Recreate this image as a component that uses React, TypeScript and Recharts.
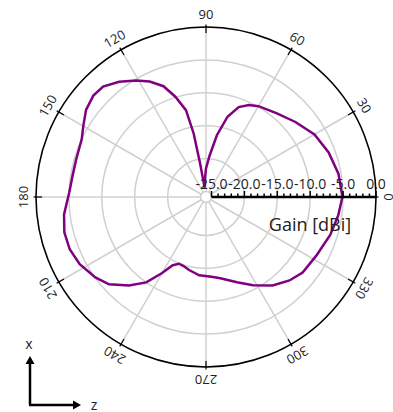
import React from 'react';
import {
  RadarChart,
  Radar,
  PolarGrid,
  PolarAngleAxis,
  PolarRadiusAxis,
} from 'recharts';

// pattern cut: angle in degrees (counter-clockwise from +z), gain in dBi
const angles = [
  0, 10, 20, 30, 40, 50, 60, 65, 70, 75, 80, 85, 90, 95, 98, 100, 101, 103, 107,
  111, 116, 121, 127, 133, 138, 144, 150, 155, 164, 171, 178, 187, 194, 201, 208,
  216, 222, 229, 235, 240, 244, 248, 252, 257, 265, 274, 280, 290, 298, 307, 315,
  322, 332, 343, 352,
];
const gains = [
  -5.1, -5.4, -6.0, -6.8, -8.1, -9.2, -9.9, -10.4, -11.3, -13.2, -16.3, -19.5,
  -21.5, -23.5, -24.4, -20.5, -16.0, -12.3, -9.9, -7.8, -6.3, -5.2, -3.9, -2.9,
  -2.8, -3.3, -4.3, -5.0, -5.3, -5.3, -5.05, -4.1, -3.65, -3.65, -4.1, -5.05,
  -6.0, -8.0, -10.0, -12.5, -14.3, -14.9, -14.8, -14.45, -13.9, -13.7, -13.3,
  -12.05, -10.65, -9.0, -7.9, -7.2, -6.85, -6.1, -5.55,
];

const angleTicks = [0, 30, 60, 90, 120, 150, 180, 210, 240, 270, 300, 330];
const gainTicks = [-25, -20, -15, -10, -5, 0];
const gainMinorTicks = [
  -25, -24, -23, -22, -21, -20, -19, -18, -17, -16, -15, -14, -13, -12, -11,
  -10, -9, -8, -7, -6, -5, -4, -3, -2, -1, 0,
];

const data = angles.map((a, i) => ({ angle: a, gain: gains[i] }));

const FONT = '"Open Sans", "Noto Sans", sans-serif';
const PURPLE = '#800080';
const GRID = '#d0d0d0';

function AngleTick(props: any) {
  const { x, y, payload } = props;
  const a = (payload.value * Math.PI) / 180;
  const ux = Math.cos(a);
  const uy = -Math.sin(a);
  return (
    <g>
      <line
        x1={x - 19 * ux}
        y1={y - 19 * uy}
        x2={x - 10.5 * ux}
        y2={y - 10.5 * uy}
        stroke="#000"
        strokeWidth={1.2}
      />
      <text
        x={x}
        y={y}
        textAnchor="middle"
        dominantBaseline="central"
        transform={`rotate(${90 - payload.value}, ${x}, ${y})`}
        fontSize={13}
        fontFamily={FONT}
        fill="#222"
      >
        {payload.value}
      </text>
    </g>
  );
}

function GainLabel(props: any) {
  const { x, y, payload } = props;
  return (
    <text
      x={x}
      y={y - 14}
      textAnchor="middle"
      dominantBaseline="central"
      fontSize={14}
      fontFamily={FONT}
      fill="#222"
    >
      {Number(payload.value).toFixed(1)}
    </text>
  );
}

function GainMark(props: any) {
  const { x, y, payload } = props;
  const major = payload.value % 5 === 0;
  return (
    <line x1={x} y1={y} x2={x} y2={y - (major ? 6 : 3.5)} stroke="#000" strokeWidth={1.5} />
  );
}

export default function App() {
  return (
    <div style={{ position: 'absolute', left: 0, top: 0, width: 393, height: 412, background: '#fff' }}>
      <RadarChart
        width={393}
        height={412}
        data={data}
        cx={206}
        cy={197}
        innerRadius={5.5}
        outerRadius={170}
        startAngle={0}
        endAngle={360}
        margin={{ top: 0, right: 0, bottom: 0, left: 0 }}
      >
        <PolarGrid gridType="circle" radiusAxisId="major" stroke={GRID} strokeWidth={1.5} />
        {/* invisible copy so the minor-tick axis has data bound to it */}
        <Radar
          dataKey="gain"
          radiusAxisId="minor"
          stroke="none"
          fill="none"
          fillOpacity={0}
          dot={false}
          isAnimationActive={false}
        />
        <Radar
          dataKey="gain"
          radiusAxisId="major"
          stroke={PURPLE}
          strokeWidth={2.5}
          fill="none"
          fillOpacity={0}
          dot={false}
          isAnimationActive={false}
        />
        <PolarRadiusAxis
          radiusAxisId="minor"
          angle={0}
          type="number"
          domain={[-25, 0]}
          ticks={gainMinorTicks}
          tickCount={26}
          axisLine={false}
          tick={GainMark}
        />
        <PolarRadiusAxis
          radiusAxisId="major"
          angle={0}
          type="number"
          domain={[-25, 0]}
          ticks={gainTicks}
          tickCount={6}
          axisLine={{ stroke: '#000', strokeWidth: 2.5 }}
          tick={GainLabel}
        />
        <PolarAngleAxis
          dataKey="angle"
          type="number"
          domain={[0, 360]}
          ticks={angleTicks}
          tickSize={13}
          tickLine={false}
          axisLineType="circle"
          axisLine={{ stroke: '#000', strokeWidth: 1.5 }}
          tick={AngleTick}
        />
      </RadarChart>
      <svg
        width={393}
        height={412}
        style={{ position: 'absolute', left: 0, top: 0, pointerEvents: 'none' }}
      >
        <text x={310} y={224} textAnchor="middle" dominantBaseline="central" fontSize={18} fontFamily={FONT} fill="#222">
          Gain [dBi]
        </text>
        <line x1={30} y1={405} x2={30} y2={362} stroke="#000" strokeWidth={2.5} />
        <polygon points="30,356 25.5,364 34.5,364" fill="#000" />
        <line x1={29} y1={405} x2={75} y2={405} stroke="#000" strokeWidth={2.5} />
        <polygon points="81,405 73,400.5 73,409.5" fill="#000" />
        <text x={29} y={343} textAnchor="middle" dominantBaseline="central" fontSize={14} fontFamily={FONT} fill="#222">
          x
        </text>
        <text x={94} y={404} textAnchor="middle" dominantBaseline="central" fontSize={14} fontFamily={FONT} fill="#222">
          z
        </text>
      </svg>
    </div>
  );
}
